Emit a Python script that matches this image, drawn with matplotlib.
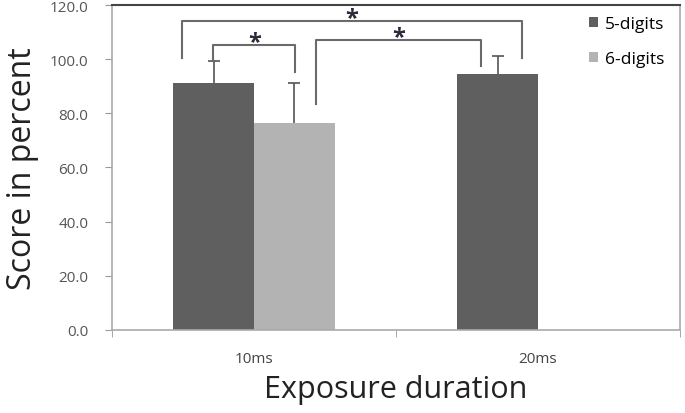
import numpy as np
import matplotlib.pyplot as plt

# valores
durations = ["10ms", "20ms"]
groups = ["5-digits", "6-digits"]
score_5 = [91.3, 94.5]
err_5 = [8.0, 6.7]
score_6 = [76.4, np.nan]
err_6 = [14.8, np.nan]

# brackets de significancia: (x izq, x der, altura, pie izq, pie der)
brackets = [
    (-0.255, 0.945, 114.1, 100.4, 100.4),
    (-0.143, 0.145, 105.2, 99.3, 95.3),
    (0.218, 0.799, 107.1, 83.5, 97.5),
]

plt.rcParams['font.family'] = ['Open Sans', 'DejaVu Sans']

fig = plt.figure(figsize=(6.85, 4.14), dpi=100)
ax = fig.add_axes([0.1635, 0.2005, 0.8292, 0.785])

x = np.arange(len(durations))
w = 0.285
c5 = "#5f5f5f"
c6 = "#b3b3b3"

ax.bar(x - w / 2, score_5, w, color=c5, label=groups[0])
ax.bar(x + w / 2, score_6, w, color=c6, label=groups[1])
for xs, ys, es in [(x - w / 2, score_5, err_5), (x + w / 2, score_6, err_6)]:
    eb = ax.errorbar(xs, ys, yerr=[np.zeros(2), es], fmt='none',
                     ecolor="#555555", capsize=4, elinewidth=1.2, capthick=1.2)
    # solo la tapa de arriba
    eb[1][0].set_visible(False)

for x1, x2, h, y1, y2 in brackets:
    ax.plot([x1, x1, x2, x2], [y1, h, h, y2], color="#6a6a6a", lw=1.5,
            clip_on=False)
    ax.text((x1 + x2) / 2, h + 1.2, "*", ha='center', va='center',
            fontsize=17, fontweight='bold', color="#2a2a3a")

ax.set_xlim(-0.5, 1.5)
ax.set_ylim(0, 120)
ax.set_yticks(np.arange(0, 121, 20))
ax.set_yticklabels(["%.1f" % v for v in np.arange(0, 121, 20)])
ax.set_xticks(x)
ax.set_xticklabels(durations)
ax.set_xticks([-0.5, 0.5, 1.5], minor=True)
ax.tick_params(axis='x', which='major', length=0, pad=15, labelsize=11,
               labelcolor="#444444")
ax.tick_params(axis='x', which='minor', length=5, color="#999999")
ax.tick_params(axis='y', length=5, color="#999999", labelsize=11,
               labelcolor="#555555", pad=12)

for s in ["left", "bottom", "right"]:
    ax.spines[s].set_color("#aaaaaa")
    ax.spines[s].set_linewidth(1.2)
ax.spines["top"].set_color("#444444")
ax.spines["top"].set_linewidth(1.5)

ax.set_ylabel("Score in percent", fontsize=23, color="#222222", labelpad=8)
ax.set_xlabel("Exposure duration", fontsize=22, color="#222222", labelpad=6)

ax.legend(loc='upper right', frameon=False, fontsize=12.5, handlelength=0.5,
          handleheight=0.5, handletextpad=0.4, labelspacing=1.1,
          bbox_to_anchor=(1.0, 1.015))

fig.savefig("out.png", dpi=100)
